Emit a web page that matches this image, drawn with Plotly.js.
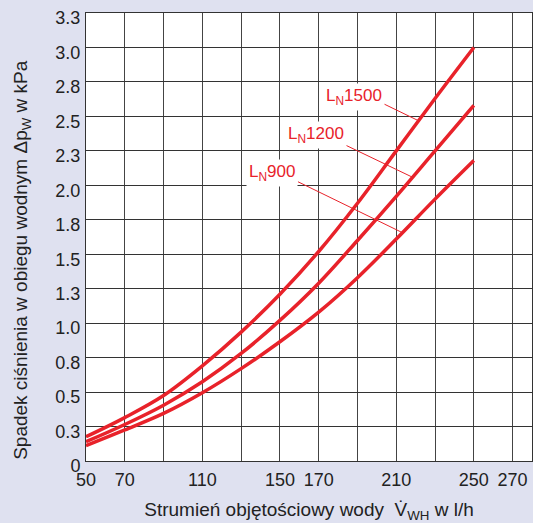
<!DOCTYPE html>
<html>
<head>
<meta charset="utf-8">
<script src="https://cdn.plot.ly/plotly-3.0.1.min.js"></script>
<style>
  html, body { margin: 0; padding: 0; background: #dfe1f0; }
  #chart { width: 533px; height: 523px; }
</style>
</head>
<body>
<div id="chart"></div>
<script>
// Water-side pressure drop vs. water flow rate for three unit sizes
const flow = [50, 70, 90, 110, 130, 150, 170, 190, 210, 230, 250];
const dpLN1500 = [0.176, 0.315, 0.475, 0.69, 0.935, 1.21, 1.52, 1.87, 2.25, 2.63, 3.0];
const dpLN1200 = [0.14, 0.265, 0.405, 0.575, 0.78, 1.02, 1.29, 1.60, 1.92, 2.25, 2.58];
const dpLN900  = [0.111, 0.225, 0.345, 0.495, 0.67, 0.865, 1.08, 1.33, 1.61, 1.90, 2.18];

const seriesNames = ['L<sub>N</sub>1500', 'L<sub>N</sub>1200', 'L<sub>N</sub>900'];
const seriesValues = [dpLN1500, dpLN1200, dpLN900];

// Axis ticks
const xTickVals = [50, 70, 90, 110, 130, 150, 170, 190, 210, 230, 250, 270];
const xTickText = ['50', '70', '', '110', '', '150', '170', '', '210', '', '250', '270'];
const yTickVals = [0, 0.25, 0.5, 0.75, 1.0, 1.25, 1.5, 1.75, 2.0, 2.25, 2.5, 2.75, 3.0, 3.25];
const yTickText = ['0', '0.3', '0.5', '0.8', '1.0', '1.3', '1.5', '1.8', '2.0', '2.3', '2.5', '2.8', '3.0', '3.3'];

// Curve labels: text centre, leader start, and flow where the leader meets its curve
const labelPos = [[188, 2.64], [168.6, 2.365], [145.9, 2.09]];
const leaderStart = [[203.7, 2.59], [184.1, 2.29], [159.3, 2.026]];
const leaderTipFlow = [221.5, 218.4, 213.2];

const RED = '#e8222a';
const FONT = 'Liberation Sans, Arial, sans-serif';

function interp(xs, ys, x) {
  for (let i = 0; i < xs.length - 1; i++) {
    if (x >= xs[i] && x <= xs[i + 1]) {
      const t = (x - xs[i]) / (xs[i + 1] - xs[i]);
      return ys[i] + t * (ys[i + 1] - ys[i]);
    }
  }
  return ys[ys.length - 1];
}

const traces = seriesValues.map((vals, i) => ({
  type: 'scatter',
  mode: 'lines',
  x: flow,
  y: vals,
  name: seriesNames[i],
  line: { color: RED, width: 3.5, shape: 'spline', smoothing: 1 },
  hoverinfo: 'x+y+name'
}));

const shapes = seriesValues.map((vals, i) => ({
  type: 'line',
  xref: 'x', yref: 'y',
  x0: leaderStart[i][0], y0: leaderStart[i][1],
  x1: leaderTipFlow[i], y1: interp(flow, vals, leaderTipFlow[i]),
  line: { color: RED, width: 1 },
  layer: 'above'
}));

const annotations = seriesNames.map((name, i) => ({
  xref: 'x', yref: 'y',
  x: labelPos[i][0], y: labelPos[i][1],
  text: name,
  showarrow: false,
  font: { family: FONT, size: 17, color: RED },
  bgcolor: '#ffffff',
  borderpad: 2
}));

annotations.push({
  xref: 'paper', yref: 'paper',
  x: -0.1435, y: 0.449,
  xanchor: 'center', yanchor: 'middle',
  textangle: -90,
  text: 'Spadek ciśnienia w obiegu wodnym Δp<sub>W</sub> w kPa',
  showarrow: false,
  font: { family: FONT, size: 19, color: '#222222' }
});

const layout = {
  width: 533,
  height: 523,
  margin: { l: 86, r: 1, t: 13, b: 62 },
  paper_bgcolor: '#dfe1f0',
  plot_bgcolor: '#ffffff',
  showlegend: false,
  font: { family: FONT, color: '#222222' },
  xaxis: {
    range: [50, 280],
    tickvals: xTickVals,
    ticktext: xTickText,
    ticks: '',
    showgrid: true,
    gridcolor: '#444444',
    gridwidth: 1,
    showline: true,
    linecolor: '#333333',
    linewidth: 1,
    mirror: true,
    zeroline: false,
    tickfont: { family: FONT, size: 18, color: '#222222' },
    ticklabelstandoff: 2,
    ticklabeloverflow: 'allow',
    title: {
      text: 'Strumień objętościowy wody  V̇<sub>WH</sub> w l/h',
      font: { family: FONT, size: 19, color: '#222222' },
      standoff: 16
    }
  },
  yaxis: {
    range: [0, 3.2502],
    tickvals: yTickVals,
    ticktext: yTickText,
    ticks: '',
    showgrid: true,
    gridcolor: '#333333',
    gridwidth: 1,
    showline: true,
    linecolor: '#333333',
    linewidth: 1,
    mirror: true,
    zeroline: false,
    tickfont: { family: FONT, size: 18, color: '#222222' },
    ticklabelstandoff: 1,
    ticklabelshift: 5,
    ticklabeloverflow: 'allow'
  },
  shapes: shapes,
  annotations: annotations
};

Plotly.newPlot('chart', traces, layout, { displayModeBar: false, staticPlot: true });
</script>
</body>
</html>
